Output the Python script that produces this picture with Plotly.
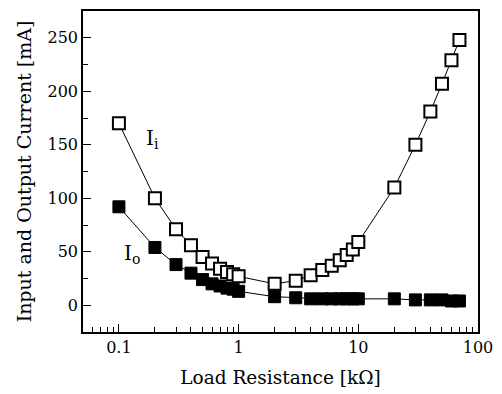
import plotly.graph_objects as go

resistance = [0.1, 0.2, 0.3, 0.4, 0.5, 0.6, 0.7, 0.8, 0.9, 1, 2, 3, 4, 5, 6, 7, 8, 9, 10, 20, 30, 40, 50, 60, 70]
input_current = [170, 100, 71, 56, 45, 39, 34, 31, 29, 27, 20, 23, 28, 33, 37, 42, 47, 52, 59, 110, 150, 181, 207, 229, 248]
output_current = [92, 54, 38, 30, 24, 20, 18, 16, 15, 13, 8, 7, 6, 6, 6, 6, 6, 6, 6, 6, 5, 5, 5, 4, 4]

x_ticks = [0.1, 1, 10, 100]
x_tick_labels = ["0.1", "1", "10", "100"]
x_minor = [0.06, 0.07, 0.08, 0.09, 0.2, 0.3, 0.4, 0.5, 0.6, 0.7, 0.8, 0.9,
           2, 3, 4, 5, 6, 7, 8, 9, 20, 30, 40, 50, 60, 70, 80, 90]
y_ticks = [0, 50, 100, 150, 200, 250]

font = "DejaVu Serif"

fig = go.Figure()
fig.add_trace(go.Scatter(
    x=resistance, y=input_current, mode="lines+markers",
    line=dict(color="black", width=1),
    marker=dict(symbol="square", size=12, color="white", line=dict(color="black", width=2)),
    showlegend=False))
fig.add_trace(go.Scatter(
    x=resistance, y=output_current, mode="lines+markers",
    line=dict(color="black", width=1),
    marker=dict(symbol="square", size=12, color="black", line=dict(color="black", width=1)),
    showlegend=False))

fig.add_annotation(x=-0.72, y=155, xref="x", yref="y", text="I<sub>i</sub>", showarrow=False,
                   font=dict(family=font, size=20, color="black"))
fig.add_annotation(x=-0.89, y=48, xref="x", yref="y", text="I<sub>o</sub>", showarrow=False,
                   font=dict(family=font, size=20, color="black"))

fig.update_layout(
    width=502, height=394,
    margin=dict(l=83, r=20, t=9, b=61),
    paper_bgcolor="white", plot_bgcolor="white",
    font=dict(family=font, size=16, color="black"),
    xaxis=dict(
        type="log", range=[-1.3, 2],
        tickmode="array", tickvals=x_ticks, ticktext=x_tick_labels,
        ticks="inside", ticklen=8, tickwidth=1, tickcolor="black",
        minor=dict(tickmode="array", tickvals=x_minor, ticks="inside", ticklen=5, tickcolor="black", showgrid=False),
        showline=True, linecolor="black", linewidth=1.5, mirror=True,
        showgrid=False, zeroline=False,
        title=dict(text="Load Resistance [kΩ]", font=dict(size=18.5), standoff=15),
        tickfont=dict(size=16),
    ),
    yaxis=dict(
        range=[-25, 275],
        tickmode="array", tickvals=y_ticks,
        ticks="inside", ticklen=8, tickwidth=1, tickcolor="black",
        minor=dict(dtick=25, ticks="inside", ticklen=5, tickcolor="black", showgrid=False),
        showline=True, linecolor="black", linewidth=1.5, mirror=True,
        showgrid=False, zeroline=False,
        title=dict(text="Input and Output Current [mA]", font=dict(size=19), standoff=11),
        tickfont=dict(size=16),
    ),
)

fig.write_html("out.html")
